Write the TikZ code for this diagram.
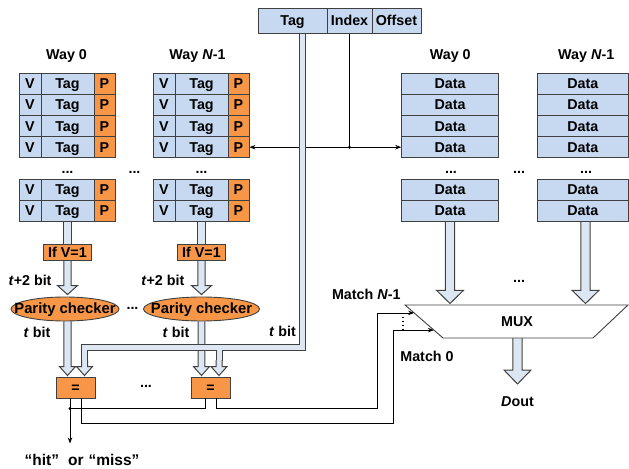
\documentclass[tikz,border=0pt]{standalone}
\usepackage{fontspec}
\setmainfont{Liberation Sans}
\usetikzlibrary{shapes.geometric,arrows.meta,calc}
\definecolor{cellblue}{RGB}{198,217,241}
\definecolor{cellorange}{RGB}{247,150,70}
\definecolor{busfill}{RGB}{221,231,243}
\definecolor{edge}{RGB}{64,64,64}
\newcommand\lblfont{\fontsize{14.3bp}{17bp}\selectfont\bfseries}
\pgfdeclarelayer{bg}
\pgfsetlayers{bg,main}
% vertical block arrow: start, tip, half shaft width, half head width, head length
\newcommand\barrow[5]{%
  \filldraw[hollow] let \p1=(#1), \p2=(#2) in
    (\x1-#3,\y1) -- (\x1-#3,\y2+#5) -- (\x1-#4,\y2+#5) -- (\x1,\y2)
    -- (\x1+#4,\y2+#5) -- (\x1+#3,\y2+#5) -- (\x1+#3,\y1);}
\tikzset{
  busdark/.style={draw=edge, line width=#1, line cap=butt, line join=miter},
  buslight/.style={draw=busfill, line width=#1, line cap=butt, line join=miter}}
\begin{document}
\begin{tikzpicture}[x=1bp,y=-1bp,
  every node/.style={font=\lblfont, inner sep=0pt},
  cellb/.style={draw=edge, fill=cellblue, line width=0.9bp, minimum height=21.2bp,
                text height=10.2bp, text depth=0pt},
  cello/.style={cellb, fill=cellorange},
  conn/.style={line width=0.8bp, draw=black},
  arr/.style={conn, -{Stealth[length=6bp,width=4.5bp]}},
  hollow/.style={fill=busfill, draw=edge, line width=1bp, line join=miter},
  lbl/.style={anchor=base}]
\useasboundingbox (0,0) rectangle (629,469);

% ---- address fields
\node[cellb, minimum width=69bp, minimum height=25bp] (ftag) at (292.5,20.5) {Tag};
\node[cellb, minimum width=45bp, minimum height=25bp] (findex) at (349.5,20.5) {Index};
\node[cellb, minimum width=49bp, minimum height=25bp] (foffset) at (396.5,20.5) {Offset};

% ---- tag arrays (a = way 0, b = way N-1)
\foreach \w/\dx in {a/0,b/134}{
  \foreach \r/\y in {1/83.6,2/104.8,3/126,4/147.2,5/189.6,6/210.8}{
    \node[cellb, minimum width=22bp] (\w-v\r) at (30+\dx,\y) {V};
    \node[cellb, minimum width=53bp] (\w-t\r) at (67.5+\dx,\y) {Tag};
    \node[cello, minimum width=21bp] (\w-p\r) at (104.5+\dx,\y) {P};
  }
}
% ---- data arrays
\foreach \r/\y in {1/83.6,2/104.8,3/126,4/147.2,5/189.6,6/210.8}{
  \node[cellb, minimum width=96.6bp] (da-\r) at (450,\y) {Data};
  \node[cellb, minimum width=90.6bp] (db-\r) at (582.8,\y) {Data};
}

% ---- way labels and ellipses
\node[lbl] (lw0) at (66.5,60) {Way 0};
\node[lbl] (lw1) at (197.5,60) {Way \textit{N}-1};
\node[lbl] (lw2) at (450.3,60) {Way 0};
\node[lbl] (lw3) at (586.3,60) {Way \textit{N}-1};
\foreach \n/\x/\y in {d1/67.5/172,d2/134.5/172,d3/201.5/172,d4/451/172,d5/519/172,
                      d6/586/172,d7/132.5/308,d8/146/386.5,d9/519/281}{
  \node (\n) at (\x,\y) {...};
}

% ---- valid check, parity checkers, comparators
\node[cello, minimum width=48bp, minimum height=16bp] (if0) at (67.5,252) {If V=1};
\node[cello, minimum width=48bp, minimum height=16bp] (if1) at (201.5,252) {If V=1};
\node[draw=edge, fill=cellorange, ellipse, line width=0.9bp, minimum width=108bp,
      minimum height=24bp] (pc0) at (65,309) {};
\node[text height=10.2bp, text depth=0pt, font=\fontsize{14.8bp}{17bp}\selectfont\bfseries]
      (pc0t) at (65,308.5) {Parity checker};
\node[draw=edge, fill=cellorange, ellipse, line width=0.9bp, minimum width=116bp,
      minimum height=24bp] (pc1) at (201.5,309) {};
\node[text height=10.2bp, text depth=0pt, font=\fontsize{14.8bp}{17bp}\selectfont\bfseries]
      (pc1t) at (201.5,308.5) {Parity checker};
\node[cello, minimum width=39bp, minimum height=21bp] (eq0) at (75.5,387.5) {=};
\node[cello, minimum width=39bp, minimum height=21bp] (eq1) at (210.5,387.5) {=};

% ---- bit-width labels
\node[lbl] (tw0) at (30,286) {\textit{t}+2 bit};
\node[lbl] (tw1) at (162.8,286) {\textit{t}+2 bit};
\node[lbl] (tb0l) at (37,337) {\textit{t} bit};
\node[lbl] (tb1l) at (176,337) {\textit{t} bit};
\node[lbl] (tb2l) at (282.5,336.5) {\textit{t} bit};

% ---- multiplexer
\coordinate (mtl) at (405,305);
\coordinate (mtr) at (628,305);
\coordinate (mbr) at (593,338);
\coordinate (mbl) at (443,338);
\draw[edge, fill=white, line width=0.9bp] (mtl) -- (mtr) -- (mbr) -- (mbl) -- cycle;
\node[lbl] (mux) at (517,326) {MUX};
\node[lbl] (dout) at (517.5,406.7) {\textit{D}out};
\node[lbl] (lmn) at (366.3,300) {Match \textit{N}-1};
\node[lbl] (lm0) at (427,361.7) {Match 0};
\node[lbl, font=\fontsize{15.5bp}{18bp}\selectfont\bfseries] (hm) at (82,465)
      {“hit”\hspace{9bp}or\hspace{5bp}“miss”};

% ---- index line to both arrays
\coordinate (ij) at (findex.south |- da-4);
\begin{pgfonlayer}{bg}
  \draw[conn] (findex.south) -- (ij);
  \draw[arr] (ij) -- (b-p4.east);
  \draw[arr] (ij) -- (da-4.west);
\end{pgfonlayer}
\fill (ij) circle (1.6bp);

% ---- hollow buses
\coordinate (tbs) at (302.5,33);
\coordinate (tbc) at (302.5,347);
\coordinate (tbl) at (84.5,347);
\coordinate (tbe0) at (84.5,361);
\coordinate (tbj) at (219,347);
\coordinate (tbe1) at (219,361);
\coordinate (tbh0) at (84.5,360);
\coordinate (tbh1) at (219,360);
\coordinate (dbs) at ($(db-6.south)+(2.7,0)$);
\coordinate (dtip) at (0,303.5);
\coordinate (mbm) at (517.5,338);
\coordinate (otip) at (517.5,384);
\begin{pgfonlayer}{bg}
  % array to valid check
  \draw[busdark=8.4bp] (a-t6.south) -- (a-t6.south |- if0.north);
  \draw[buslight=6.4bp] (a-t6.south) -- (a-t6.south |- if0.north);
  \draw[busdark=8.4bp] (b-t6.south) -- (b-t6.south |- if1.north);
  \draw[buslight=6.4bp] (b-t6.south) -- (b-t6.south |- if1.north);
  % valid check to parity checker
  \barrow{if0.south}{$(pc0.north)+(0,-2)$}{3.7bp}{10bp}{9bp}
  \barrow{if1.south}{$(pc1.north)+(0,-2)$}{3.7bp}{10bp}{9bp}
  % parity checker to comparator
  \barrow{if0.south |- pc0.south}{$(eq0.north)+(0,-1)$}{3.6bp}{8bp}{9bp}
  \barrow{if1.south |- pc1.south}{$(eq1.north)+(0,-1)$}{3.3bp}{8bp}{9bp}
  % tag field to comparators
  \draw[busdark=7bp] (tbs) -- (tbc) -- (tbl) -- (tbe0);
  \draw[busdark=7bp] (tbj) -- (tbe1);
  \draw[buslight=5bp] (tbs) -- (tbc) -- (tbl) -- (tbe0);
  \draw[buslight=5bp] (tbj) -- (tbe1);
  \barrow{tbh0}{$(eq0.north)+(0,-1)$}{3bp}{8bp}{9bp}
  \barrow{tbh1}{$(eq1.north)+(0,-1)$}{3bp}{8bp}{9bp}
  % data to multiplexer and output
  \barrow{da-6.south}{dtip}{4.6bp}{13.3bp}{13bp}
  \barrow{dbs}{dtip}{4.6bp}{13.3bp}{13bp}
  \barrow{mbm}{otip}{4.6bp}{13.5bp}{14bp}
\end{pgfonlayer}

% ---- comparator outputs
\coordinate (e0l) at ($(eq0.south)+(-5.5,0)$);
\coordinate (e0r) at ($(eq0.south)+(5.5,0)$);
\coordinate (e1l) at ($(eq1.south)+(-5.5,0)$);
\coordinate (e1r) at ($(eq1.south)+(5.5,0)$);
\coordinate (hj) at ($(e0l)+(0,10)$);
\coordinate (hend) at ($(e0l)+(0,45)$);
\coordinate (bN) at (377,408);
\coordinate (b0) at (393,423);
\coordinate (mN) at ($(mtl)!0.24!(mbl)$);
\coordinate (m0) at ($(mtl)!0.76!(mbl)$);
\coordinate (dt1) at (403,317);
\coordinate (dt2) at (403,329);
\draw[arr] (e0l) -- (hend);
\draw[conn] (e1l) |- (hj);
\fill (hj) circle (1.6bp);
\draw[arr] (e1r) |- (bN) |- (mN);
\draw[arr] (e0r) |- (b0) |- (m0);
\draw[line width=1.3bp, dash pattern=on 1.3bp off 2.6bp] (dt1) -- (dt2);
\end{tikzpicture}
\end{document}
